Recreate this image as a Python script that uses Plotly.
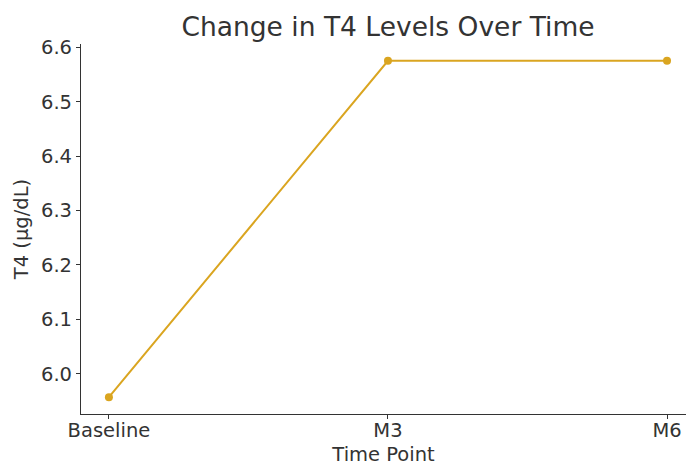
import plotly.graph_objects as go

time_points = ["Baseline", "M3", "M6"]
t4_values = [5.957, 6.575, 6.575]
y_ticks = [6.0, 6.1, 6.2, 6.3, 6.4, 6.5, 6.6]

fig = go.Figure()
fig.add_trace(go.Scatter(
    x=[0, 1, 2], y=t4_values, mode="lines+markers",
    line=dict(color="#DAA520", width=2),
    marker=dict(color="#DAA520", size=8),
    cliponaxis=False,
))

W, H = 686, 466
font_family = "DejaVu Sans"
fig.update_layout(
    width=W, height=H,
    margin=dict(l=81, r=0, t=44, b=52),
    paper_bgcolor="white", plot_bgcolor="white",
    showlegend=False,
    font=dict(family=font_family, size=19.5, color="#333333"),
    title=dict(text="Change in T4 Levels Over Time", x=388/W, xanchor="center",
               y=1 - 27/H, yanchor="middle", automargin=False,
               font=dict(size=26.5, color="#333333")),
)
fig.update_xaxes(
    range=[-0.1, 2.068], tickmode="array", tickvals=[0, 1, 2], ticktext=time_points,
    showgrid=False, zeroline=False, showline=True, linecolor="#333333", linewidth=1.2,
    ticks="outside", ticklen=4, tickcolor="#333333", automargin=False,
    tickfont=dict(size=19.5), ticklabelstandoff=-6,
    title=dict(text="Time Point", font=dict(size=19.5), standoff=7),
)
fig.update_yaxes(
    range=[5.926, 6.606], tickmode="array", tickvals=y_ticks,
    ticktext=[f"{v:.1f}" for v in y_ticks],
    showgrid=False, zeroline=False, showline=True, linecolor="#333333", linewidth=1.2,
    ticks="outside", ticklen=4, tickcolor="#333333", automargin=False,
    tickfont=dict(size=19.5),
    title=dict(text="T4 (μg/dL)", font=dict(size=19.5), standoff=7),
)
fig.write_html(
    "out.html",
    config={"displayModeBar": False},
    post_script="document.body.style.margin='0';document.body.style.overflow='hidden';",
)
